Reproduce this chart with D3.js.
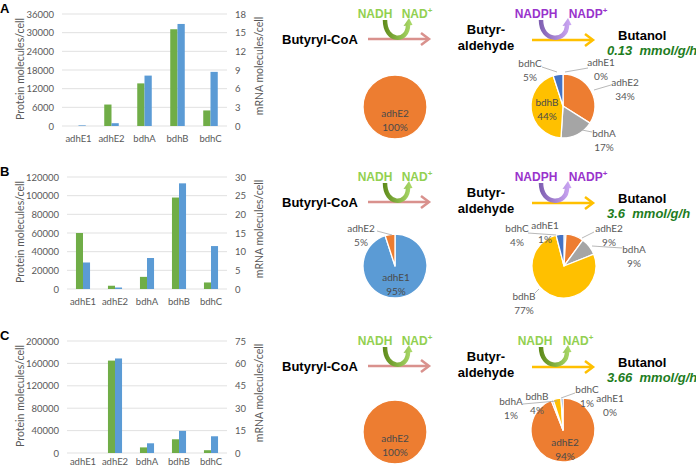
<!DOCTYPE html>
<html><head><meta charset="utf-8">
<script src="https://cdn.jsdelivr.net/npm/d3@7"></script>
<style>body{margin:0;background:#fff} svg{display:block}</style>
</head><body><svg id="c" width="696" height="469"></svg>
<script>
// ---------- DATA ----------
const genes = ["adhE1", "adhE2", "bdhA", "bdhB", "bdhC"];
const panels = ["A", "B", "C"];
const proteinA = [0, 6900, 13700, 31100, 5000];
const mrnaA = [0.1, 0.45, 8.1, 16.4, 8.7];
const proteinB = [60000, 3500, 13000, 98000, 7000];
const mrnaB = [7.1, 0.4, 8.3, 28.3, 11.5];
const proteinC = [0, 165000, 10000, 24500, 5000];
const mrnaC = [0, 63.3, 6.5, 14.8, 11.2];
const proteinTicksA = [0, 6000, 12000, 18000, 24000, 30000, 36000];
const proteinTicksB = [0, 20000, 40000, 60000, 80000, 100000, 120000];
const proteinTicksC = [0, 40000, 80000, 120000, 160000, 200000];
const mrnaTicksA = [0, 3, 6, 9, 12, 15, 18];
const mrnaTicksB = [0, 5, 10, 15, 20, 25, 30];
const mrnaTicksC = [0, 15, 30, 45, 60, 75];
const step1Genes = ["adhE1", "adhE2"];
const step1A = [0, 100];
const step1B = [95, 5];
const step1C = [0, 100];
const step2A = [0, 34, 17, 44, 5];
const step2B = [1, 9, 9, 77, 4];
const step2C = [0, 94, 1, 4, 1];
const rates = ["0.13", "3.6", "3.66"];
const step2Cofactor = [["NADPH", "NADP"], ["NADPH", "NADP"], ["NADH", "NAD"]];

// ---------- STYLE / LAYOUT ----------
const svg = d3.select("#c");
const chartFont = "Lato, 'Open Sans', sans-serif";
const boldFont = "'Liberation Sans', Arial, sans-serif";
const grey = "#595959";
const greenBar = "#70ad47", blueBar = "#5b9bd5";
const geneColor = {adhE1: "#5b9bd5", adhE2: "#ed7d31", bdhA: "#a5a5a5", bdhB: "#ffc000", bdhC: "#4472c4"};
const offsets = [0, 163, 327];
const xRanges = [[62, 227], [67, 227], [67, 227]];
const proteins = [proteinA, proteinB, proteinC];
const mrnas = [mrnaA, mrnaB, mrnaC];
const pTicks = [proteinTicksA, proteinTicksB, proteinTicksC];
const mTicks = [mrnaTicksA, mrnaTicksB, mrnaTicksC];
const step1 = [step1A, step1B, step1C];
const step2 = [step2A, step2B, step2C];
const pie1Centers = [[395, 107], [395, 266], [395, 432]];
const pie2Centers = [[563, 106], [564, 266], [563, 430]];

// label placement (relative to pie centre): [geneIndex, dx, dy, leader, inside]
const pie1Labels = [
  [[1, 0, 6, null, true]],
  [[0, 1, 11, null, true], [1, -34, -38, [-18, -35, -3, -31]]],
  [[1, 0, 6, null, true]]
];
const pie2Labels = [
  [[0, 38, -44, [25, -38, 2, -34]], [1, 62, -24, [48, -21, 31, -16]], [2, 41, 27, [29, 26, 19, 24]], [3, -16, -4, null, true], [4, -33, -43, [-21, -39, -6, -34]]],
  [[0, -19, -41], [1, 45, -38, [30, -34, 18, -28]], [2, 70, -17, [58, -18, 28, -20]], [3, -40, 30, [-29, 27, -25, 23]], [4, -47, -38, [-36, -33, -8, -31]]],
  [[0, 47, -32], [1, 2, 12, null, true], [2, -52, -29, [-40, -26, -6, -29]], [3, -26, -34], [4, 24, -41, [12, -37, -2, -32]]]
];

// gradients
const defs = svg.append("defs");
function grad(id, c1, c2, x1, x2) {
  const lg = defs.append("linearGradient").attr("id", id).attr("gradientUnits", "userSpaceOnUse")
    .attr("x1", x1).attr("x2", x2).attr("y1", 0).attr("y2", 0);
  lg.append("stop").attr("offset", "0").attr("stop-color", c1);
  lg.append("stop").attr("offset", "1").attr("stop-color", c2);
}
grad("gMid", "#5e8a1a", "#a9d868", 383, 411);
grad("gPur", "#7b5cae", "#cba6f3", 538, 570);
grad("gGrnR", "#5e8a1a", "#a9d868", 540, 570);

function uArrow(x1, x2, yTop, yBot, gid) {
  const cy = yTop + (yBot - yTop) / 0.75;
  svg.append("path")
    .attr("d", `M${x1},${yTop} C${x1},${cy} ${x2},${cy} ${x2},${yTop + 5}`)
    .attr("fill", "none").attr("stroke", `url(#${gid})`).attr("stroke-width", 4.5);
  svg.append("path")
    .attr("d", `M${x2 - 4.5},${yTop + 6} L${x2 + 4.5},${yTop + 5} L${x2 + 1},${yTop - 2} Z`)
    .attr("fill", `url(#${gid})`);
}
function mainArrow(x1, x2, y, color) {
  svg.append("line").attr("x1", x1).attr("x2", x2 - 1).attr("y1", y).attr("y2", y)
    .attr("stroke", color).attr("stroke-width", 2.5);
  svg.append("path").attr("d", `M${x2 - 8},${y - 6} L${x2},${y} L${x2 - 8},${y + 6}`)
    .attr("fill", "none").attr("stroke", color).attr("stroke-width", 2.5).attr("stroke-linejoin", "miter");
}
function cofText(x, y, base, plus, color) {
  const t = svg.append("text").attr("x", x).attr("y", y).attr("text-anchor", "middle")
    .attr("dominant-baseline", "central").attr("font-family", boldFont).attr("font-weight", "bold")
    .attr("font-size", 12).attr("fill", color).text(base);
  if (plus) t.append("tspan").attr("font-size", 8).attr("dy", -4).text("+");
}
function pieLabel(cx, cy, name, val, spec) {
  const [i, dx, dy, leader, inside] = spec;
  if (leader) {
    svg.append("line").attr("x1", cx + leader[0]).attr("y1", cy + leader[1])
      .attr("x2", cx + leader[2]).attr("y2", cy + leader[3]).attr("stroke", "#a6a6a6").attr("stroke-width", 0.8);
  }
  const t = svg.append("text").attr("text-anchor", "middle").attr("font-family", chartFont)
    .attr("font-size", 10).attr("fill", inside ? "#4a4a4a" : grey);
  t.append("tspan").attr("x", cx + dx).attr("y", cy + dy).attr("dominant-baseline", "central").text(name);
  t.append("tspan").attr("x", cx + dx).attr("y", cy + dy + 14).attr("dominant-baseline", "central").text(val + "%");
}
function drawPie(center, values, names, labels) {
  const [cx, cy] = center;
  const arcs = d3.pie().sort(null).value(d => d)(values);
  const arc = d3.arc().innerRadius(0).outerRadius(32);
  svg.append("g").attr("transform", `translate(${cx},${cy})`)
    .selectAll("path").data(arcs).join("path")
    .attr("d", arc).attr("fill", (d, i) => geneColor[names[i]])
    .attr("stroke", "#fff").attr("stroke-width", 1.3).attr("stroke-linejoin", "round");
  labels.forEach(s => pieLabel(cx, cy, names[s[0]], values[s[0]], s));
}

panels.forEach((p, k) => {
  const off = offsets[k];
  const top = 14 + off, bot = 126 + off;
  // panel letter
  svg.append("text").attr("x", 0).attr("y", 13 + off).attr("font-family", boldFont)
    .attr("font-weight", "bold").attr("font-size", 13).text(p);

  // ---- bar chart ----
  const x0 = d3.scaleBand().domain(genes).range(xRanges[k]).paddingInner(0.56).paddingOuter(0.28);
  const x1 = d3.scaleBand().domain(["p", "m"]).range([0, x0.bandwidth()]);
  const yl = d3.scaleLinear().domain([0, d3.max(pTicks[k])]).range([bot, top]);
  const yr = d3.scaleLinear().domain([0, d3.max(mTicks[k])]).range([bot, top]);
  const g = svg.append("g");
  g.selectAll("line.grid").data(pTicks[k]).join("line")
    .attr("x1", xRanges[k][0]).attr("x2", xRanges[k][1])
    .attr("y1", d => yl(d)).attr("y2", d => yl(d)).attr("stroke", "#d9d9d9").attr("stroke-width", 0.8);
  g.selectAll("text.lt").data(pTicks[k]).join("text")
    .attr("x", xRanges[k][0] - 8).attr("y", d => yl(d)).attr("text-anchor", "end")
    .attr("dominant-baseline", "central").attr("font-family", chartFont).attr("font-size", 9.5)
    .attr("fill", grey).text(d => d);
  g.selectAll("text.rt").data(mTicks[k]).join("text")
    .attr("x", 235).attr("y", d => yr(d)).attr("text-anchor", "start")
    .attr("dominant-baseline", "central").attr("font-family", chartFont).attr("font-size", 9.5)
    .attr("fill", grey).text(d => d);
  g.selectAll("rect.p").data(proteins[k]).join("rect")
    .attr("x", (d, i) => x0(genes[i]) + x1("p")).attr("width", x1.bandwidth())
    .attr("y", d => yl(d)).attr("height", d => bot - yl(d)).attr("fill", greenBar);
  g.selectAll("rect.m").data(mrnas[k]).join("rect")
    .attr("x", (d, i) => x0(genes[i]) + x1("m")).attr("width", x1.bandwidth())
    .attr("y", d => yr(d)).attr("height", d => bot - yr(d)).attr("fill", blueBar);
  g.selectAll("text.cat").data(genes).join("text")
    .attr("x", d => x0(d) + x0.bandwidth() / 2).attr("y", Math.min(bot + 12, 461)).attr("text-anchor", "middle")
    .attr("dominant-baseline", "central").attr("font-family", chartFont).attr("font-size", 9.5)
    .attr("fill", grey).text(d => d);
  g.append("text").attr("transform", `translate(20,${69 + off}) rotate(-90)`).attr("text-anchor", "middle")
    .attr("dominant-baseline", "central").attr("font-family", chartFont).attr("font-size", 10.5)
    .attr("fill", grey).text("Protein molecules/cell");
  g.append("text").attr("transform", `translate(259,${66 + off}) rotate(-90)`).attr("text-anchor", "middle")
    .attr("dominant-baseline", "central").attr("font-family", chartFont).attr("font-size", 10.5)
    .attr("fill", grey).text("mRNA molecules/cell");

  // ---- pathway step 1 ----
  const ay = 39 + off;
  svg.append("text").attr("x", 282).attr("y", ay).attr("dominant-baseline", "central")
    .attr("font-family", boldFont).attr("font-weight", "bold").attr("font-size", 13).text("Butyryl-CoA");
  mainArrow(368, 429, ay, "#d9918d");
  cofText(375, 14 + off, "NADH", false, "#92d050");
  cofText(417, 14 + off, "NAD", true, "#92d050");
  uArrow(385, 408, 20 + off, 37 + off, "gMid");

  // ---- pathway step 2 ----
  svg.append("text").attr("x", 486).attr("y", 29 + off).attr("text-anchor", "middle").attr("dominant-baseline", "central")
    .attr("font-family", boldFont).attr("font-weight", "bold").attr("font-size", 13).text("Butyr-");
  svg.append("text").attr("x", 486).attr("y", 45 + off).attr("text-anchor", "middle").attr("dominant-baseline", "central")
    .attr("font-family", boldFont).attr("font-weight", "bold").attr("font-size", 13).text("aldehyde");
  mainArrow(532, 593, 40 + off, "#ffc000");
  const cof = step2Cofactor[k];
  const isNadh = cof[0] === "NADH";
  const cofColor = isNadh ? "#92d050" : "#9933cc";
  cofText(isNadh ? 535 : 536, 14 + off, cof[0], false, cofColor);
  cofText(isNadh ? 578 : 588, 14 + off, cof[1], true, cofColor);
  uArrow(541, 567, 20 + off, 37 + off, isNadh ? "gGrnR" : "gPur");
  svg.append("text").attr("x", 618).attr("y", 35 + off).attr("dominant-baseline", "central")
    .attr("font-family", boldFont).attr("font-weight", "bold").attr("font-size", 13).text("Butanol");
  svg.append("text").attr("x", 607).attr("y", 50 + off).attr("dominant-baseline", "central")
    .attr("font-family", boldFont).attr("font-weight", "bold").attr("font-style", "italic")
    .attr("font-size", 13).attr("fill", "#1e7d1e").style("white-space", "pre").text(rates[k] + "  mmol/g/h");

  // ---- pies ----
  drawPie(pie1Centers[k], step1[k], step1Genes, pie1Labels[k]);
  drawPie(pie2Centers[k], step2[k], genes, pie2Labels[k]);
});
</script></body></html>
